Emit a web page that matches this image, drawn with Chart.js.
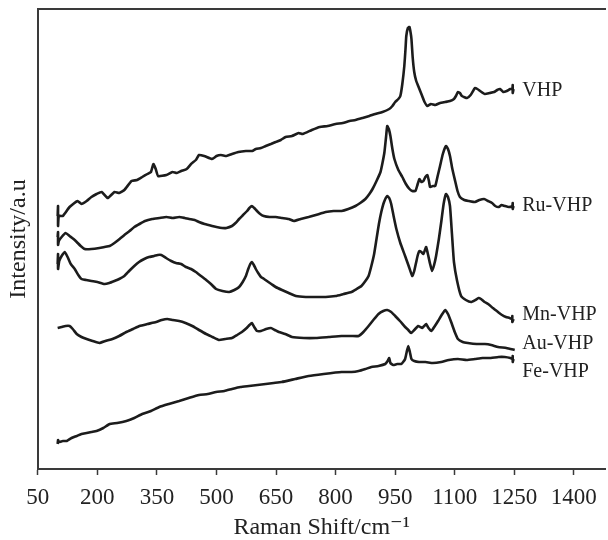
<!DOCTYPE html>
<html><head><meta charset="utf-8">
<script src="https://cdn.jsdelivr.net/npm/chart.js@4/dist/chart.umd.min.js"></script>
<style>html,body{margin:0;padding:0;background:#fff}</style>
</head><body>
<canvas id="c" width="608" height="540"></canvas>
<script>
// Tick labels on the Raman shift axis
const xTicks = [50, 200, 350, 500, 650, 800, 950, 1100, 1250, 1400];
// Series names and where their labels sit (x in cm-1, y in intensity units)
const seriesNames = ['VHP', 'Ru-VHP', 'Mn-VHP', 'Au-VHP', 'Fe-VHP'];
const labelX = 1270;
const labelY = [378, 263, 154, 125, 97];

// Spectra: [Raman shift (cm-1), intensity (a.u., offset)]
const vhp = [[100,253],[101,263],[101,243],[103,253],[113,253],[130,262],[150,268],[160,265],[173,268],[185,272],[198,275],[211,277],[226,271],[243,277],[255,276],[268,279],[286,288],[300,289],[313,292],[326,295],[335,297],[341,305],[347,300],[353,293],[374,294],[389,297],[400,296],[411,298],[425,300],[436,305],[448,309],[456,314],[469,313],[489,310],[500,313],[511,314],[525,313],[539,315],[555,317],[574,318],[590,318],[599,320],[612,321],[624,323],[637,325],[649,327],[662,329],[674,332],[690,333],[707,336],[717,335],[740,339],[760,342],[780,343],[800,345],[818,346],[835,348],[850,349],[868,351],[885,353],[900,355],[918,357],[935,360],[943,363],[950,367],[958,370],[963,373],[968,385],[973,403],[976,420],[978,433],[982,441],[986,442],[989,436],[991,430],[994,412],[998,397],[1003,388],[1008,383],[1013,378],[1018,373],[1024,367],[1031,363],[1040,365],[1051,364],[1063,366],[1076,367],[1088,368],[1098,370],[1103,373],[1108,377],[1113,376],[1118,373],[1131,371],[1140,374],[1151,381],[1157,380],[1164,378],[1176,375],[1188,376],[1199,377],[1207,379],[1214,380],[1222,377],[1231,378],[1240,380],[1245,380],[1246,384],[1246,376],[1248,380]];

const ruVhp = [[100,232],[101,237],[101,224],[103,228],[110,232],[120,236],[130,233],[140,230],[148,227],[158,223],[168,220],[185,220],[205,221],[218,222],[231,223],[243,226],[256,230],[268,234],[281,238],[293,242],[306,245],[320,248],[338,250],[356,251],[374,252],[390,251],[406,252],[420,251],[431,250],[445,249],[456,247],[470,245],[489,243],[500,242],[514,241],[525,241],[539,243],[548,246],[557,250],[567,254],[577,258],[583,261],[589,263],[595,261],[602,258],[610,255],[619,253],[634,252],[649,252],[665,251],[682,250],[695,248],[712,250],[732,252],[750,254],[775,257],[795,258],[815,258],[832,260],[850,263],[862,266],[875,270],[885,275],[893,280],[903,288],[913,297],[918,306],[923,317],[927,332],[930,343],[934,340],[938,333],[943,320],[948,310],[958,299],[968,292],[977,285],[986,280],[993,278],[1001,278],[1006,284],[1011,290],[1016,287],[1021,288],[1026,292],[1031,294],[1035,288],[1038,282],[1045,283],[1051,283],[1057,293],[1063,303],[1070,315],[1078,323],[1083,320],[1088,313],[1094,300],[1101,288],[1107,278],[1113,272],[1124,269],[1136,268],[1151,267],[1162,269],[1174,270],[1184,268],[1194,266],[1202,263],[1211,262],[1218,264],[1226,263],[1236,262],[1245,263],[1246,266],[1246,260],[1248,263]];

const mnVhp = [[100,205],[101,215],[101,200],[104,208],[110,213],[118,217],[125,212],[133,205],[143,200],[152,194],[160,190],[172,189],[185,188],[200,187],[218,185],[230,186],[243,188],[255,190],[268,193],[280,198],[293,203],[305,207],[318,210],[330,212],[343,213],[352,214],[361,214],[373,211],[386,208],[398,206],[411,205],[423,202],[436,200],[448,197],[461,193],[474,189],[486,185],[499,180],[515,178],[532,177],[545,179],[557,182],[566,187],[574,193],[580,200],[585,205],[589,207],[594,204],[599,200],[605,196],[612,192],[620,190],[627,188],[638,185],[649,182],[665,179],[682,176],[700,173],[725,172],[750,172],[775,172],[800,173],[820,175],[840,177],[853,180],[865,183],[875,188],[883,193],[890,203],[897,215],[903,230],[909,245],[915,257],[922,267],[930,273],[935,271],[940,265],[946,253],[953,240],[963,226],[975,213],[984,203],[993,193],[998,198],[1003,207],[1007,214],[1011,218],[1016,217],[1021,215],[1025,219],[1028,222],[1033,214],[1038,205],[1043,198],[1048,204],[1053,213],[1060,230],[1066,247],[1072,265],[1078,275],[1083,272],[1088,263],[1093,235],[1098,207],[1106,188],[1116,173],[1128,169],[1141,167],[1152,169],[1160,171],[1166,170],[1175,167],[1184,165],[1196,161],[1209,157],[1219,154],[1229,152],[1238,151],[1244,150],[1245,153],[1245,147],[1248,150]];

const auVhp = [[100,141],[110,142],[120,143],[130,143],[138,140],[148,135],[160,132],[173,130],[188,128],[205,126],[220,128],[238,130],[255,133],[273,137],[290,140],[306,143],[326,145],[348,147],[362,149],[376,150],[390,149],[406,148],[422,146],[439,143],[456,139],[474,135],[490,132],[506,129],[522,130],[539,131],[552,134],[564,137],[576,141],[583,144],[589,146],[595,142],[602,138],[612,138],[625,140],[637,141],[647,139],[657,137],[673,135],[690,132],[720,131],[750,131],[783,132],[815,133],[840,133],[858,133],[870,137],[883,143],[895,149],[908,155],[920,158],[930,159],[940,157],[950,153],[962,148],[975,142],[983,139],[990,136],[998,139],[1008,143],[1013,142],[1018,141],[1023,143],[1028,145],[1034,141],[1041,138],[1050,143],[1058,148],[1067,154],[1076,159],[1083,155],[1091,147],[1100,137],[1108,130],[1120,127],[1133,126],[1155,125],[1176,125],[1192,124],[1209,122],[1230,121],[1251,119]];

const feVhp = [[100,25],[101,29],[103,27],[113,28],[123,28],[135,31],[148,33],[160,35],[173,36],[185,37],[198,38],[215,41],[231,45],[250,46],[273,48],[293,51],[313,55],[335,58],[356,62],[380,65],[406,68],[430,71],[456,74],[478,75],[499,77],[520,78],[539,80],[560,82],[582,83],[603,84],[624,85],[644,86],[664,87],[698,90],[732,93],[770,95],[815,97],[840,97],[858,98],[875,100],[890,102],[908,103],[925,105],[931,108],[935,111],[938,106],[945,104],[955,105],[965,105],[970,107],[975,110],[979,117],[983,123],[987,117],[991,110],[998,108],[1010,107],[1026,107],[1045,106],[1066,107],[1085,109],[1108,110],[1130,109],[1151,110],[1170,111],[1191,111],[1210,112],[1226,112],[1240,111],[1245,110],[1246,113],[1246,107],[1248,110]];

const seriesData = [vhp, ruVhp, mnVhp, auVhp, feVhp];
const serif = "'Liberation Serif', 'DejaVu Serif', serif";
const inkColor = '#1c1c1c';
const axisColor = '#3a3a3a';

const labelPlugin = {
  id: 'seriesLabels',
  afterDatasetsDraw(chart) {
    const {ctx, scales: {x, y}} = chart;
    ctx.save();
    ctx.font = '20px ' + serif;
    ctx.fillStyle = '#222';
    ctx.textBaseline = 'middle';
    ctx.textAlign = 'left';
    seriesNames.forEach((n, i) => {
      ctx.fillText(n, x.getPixelForValue(labelX), y.getPixelForValue(labelY[i]));
    });
    ctx.restore();
  }
};

new Chart(document.getElementById('c'), {
  type: 'line',
  data: {
    datasets: seriesData.map((d, i) => ({
      label: seriesNames[i],
      data: d.map(p => ({x: p[0], y: p[1]})),
      borderColor: inkColor,
      borderWidth: 2.6,
      pointRadius: 0,
      tension: 0.15,
      fill: false
    }))
  },
  options: {
    responsive: false,
    animation: false,
    layout: {padding: {top: 9, left: 4, right: 0, bottom: 0}},
    plugins: {legend: {display: false}, tooltip: {enabled: false}},
    scales: {
      x: {
        type: 'linear', position: 'bottom', min: 50, max: 1480,
        afterBuildTicks: s => { s.ticks = xTicks.map(v => ({value: v})); },
        grid: {drawOnChartArea: false, drawTicks: true, tickLength: 6, tickColor: axisColor, tickWidth: 1.5},
        border: {color: axisColor, width: 2},
        ticks: {font: {family: serif, size: 23, lineHeight: 1}, color: '#222', padding: 11, maxRotation: 0, autoSkip: false, callback: v => String(v)},
        title: {display: true, text: 'Raman Shift/cm⁻¹', font: {family: serif, size: 24, lineHeight: 1}, color: '#222', padding: {top: -4, bottom: 0}}
      },
      xTop: {
        type: 'linear', position: 'top', min: 50, max: 1480,
        ticks: {display: false},
        grid: {drawOnChartArea: false, drawTicks: false},
        border: {color: axisColor, width: 2}
      },
      y: {
        type: 'linear', min: 0, max: 460,
        ticks: {display: false},
        grid: {drawOnChartArea: false, drawTicks: false},
        border: {color: axisColor, width: 2},
        title: {display: true, text: 'Intensity/a.u', font: {family: serif, size: 24}, color: '#222', padding: {top: 0, bottom: 5}}
      }
    }
  },
  plugins: [labelPlugin]
});
</script>
</body></html>
